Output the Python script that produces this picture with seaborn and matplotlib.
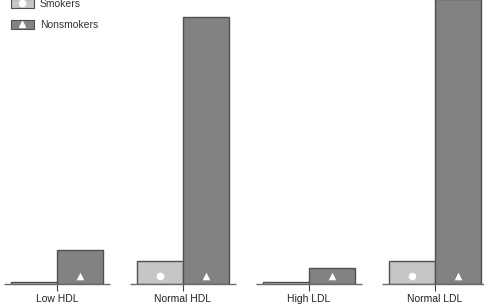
import numpy as np
import pandas as pd
import matplotlib
matplotlib.use("Agg")
import matplotlib.pyplot as plt
import seaborn as sns
from matplotlib.patches import Patch
from matplotlib.lines import Line2D

sns.set_style("white")
plt.rcParams['font.family'] = ['Liberation Sans', 'DejaVu Sans']

# data
categories = ["Low HDL", "Normal HDL", "High LDL", "Normal LDL"]
smokers = [2.3, 23.3, 2.0, 23.3]
nonsmokers = [34, 267, 16, 285]
groups = ["Smokers", "Nonsmokers"]

df = pd.DataFrame({
    "Category": categories * 2,
    "Value": smokers + nonsmokers,
    "Group": [groups[0]] * 4 + [groups[1]] * 4,
})

light = "#c6c6c6"
dark = "#828282"
edge = "#505050"
markers = {"Smokers": "o", "Nonsmokers": "^"}

fig = plt.figure(figsize=(4.85, 3.08), dpi=100)
ax = fig.add_axes([0, 24 / 308, 1, 284 / 308])

sns.barplot(data=df, x="Category", y="Value", hue="Group", order=categories,
            hue_order=groups, palette=[light, dark], width=0.73,
            edgecolor=edge, linewidth=1, saturation=1, legend=False, ax=ax)

ax.set_ylim(0, 284)
ax.set_xlim(-57 / 126, 428 / 126)

# white markers near the bottom of every bar
ymark = 0.028 * 284
for cont, g in zip(ax.containers, groups):
    xs = [p.get_x() + p.get_width() / 2 for p in cont]
    ax.scatter(xs, [ymark] * len(xs), marker=markers[g], s=30, color="white",
               zorder=5, linewidths=0)

# short baseline under each group
for i in range(len(categories)):
    ax.plot([i - 0.42, i + 0.42], [0, 0], color="#6a6a6a", lw=1, zorder=4,
            clip_on=False, solid_capstyle="butt")

sns.despine(ax=ax, left=True, bottom=True, top=True, right=True)
ax.set_yticks([])
ax.set_xlabel("")
ax.set_ylabel("")
ax.tick_params(axis="x", bottom=True, direction="out", length=5, width=0.8,
               color="#444444", pad=2.5, labelsize=7.5, labelcolor="#222222")

handles = [
    (Patch(facecolor=light, edgecolor=edge, linewidth=0.8),
     Line2D([], [], marker="o", color="white", ls="", markersize=4.5)),
    (Patch(facecolor=dark, edgecolor=edge, linewidth=0.8),
     Line2D([], [], marker="^", color="white", ls="", markersize=4.5)),
]
fig.legend(handles, groups, loc="upper left", bbox_to_anchor=(11 / 485, 1 + 1.5 / 308),
           frameon=False, borderpad=0, borderaxespad=0, fontsize=7.5,
           handlelength=2.2, handleheight=1.0, labelspacing=1.04,
           handletextpad=0.55, labelcolor="#333333")

fig.savefig("out.png", dpi=100)
